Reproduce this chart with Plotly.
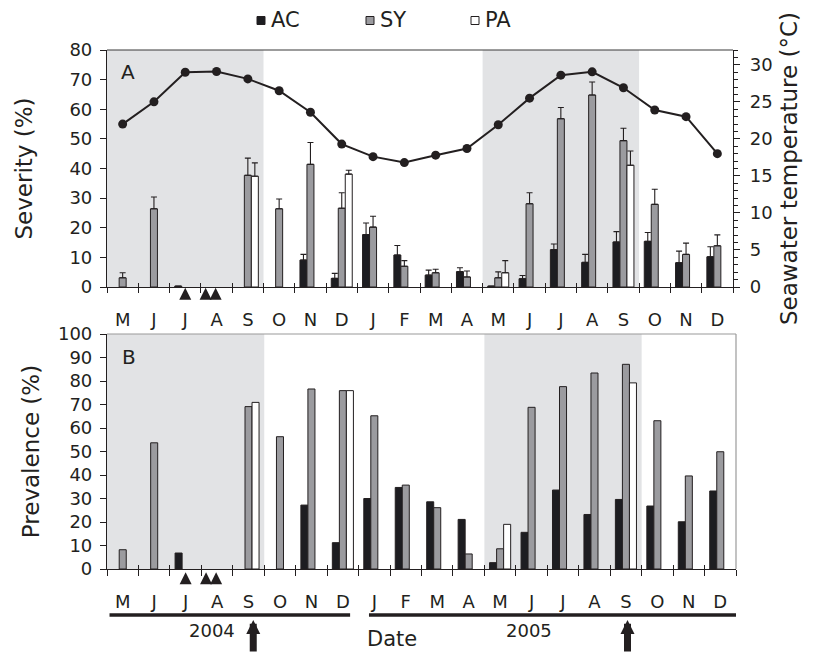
import plotly.graph_objects as go

# ---------------- data ----------------
months = ["M", "J", "J", "A", "S", "O", "N", "D", "J", "F", "M", "A",
          "M", "J", "J", "A", "S", "O", "N", "D"]
month_names = ["May", "Jun", "Jul", "Aug", "Sep", "Oct", "Nov", "Dec", "Jan", "Feb", "Mar", "Apr",
               "May", "Jun", "Jul", "Aug", "Sep", "Oct", "Nov", "Dec"]
years = [2004] * 8 + [2005] * 12

temperature = [22.0, 25.0, 29.0, 29.1, 28.1, 26.5, 23.6, 19.3, 17.6, 16.8, 17.8, 18.7,
               21.9, 25.5, 28.6, 29.05, 26.9, 23.9, 23.0, 18.0]

sev_ac = [None, None, 0.3, None, None, None, 9.1, 2.9, 17.7, 10.8, 4.0, 5.2,
          0.3, 2.8, 12.6, 8.3, 15.2, 15.4, 8.2, 10.2]
sev_ac_err = [None, None, None, None, None, None, 1.9, 1.7, 3.9, 3.2, 1.7, 1.3,
              None, 1.1, 1.9, 2.7, 3.5, 3.0, 3.9, 3.4]
sev_sy = [3.1, 26.4, None, None, 37.7, 26.4, 41.4, 26.6, 20.2, 7.0, 4.8, 3.4,
          3.1, 28.1, 56.8, 64.8, 49.4, 27.9, 11.0, 13.9]
sev_sy_err = [1.7, 4.0, None, None, 5.8, 3.3, 7.4, 5.2, 3.7, 1.9, 1.2, 2.0,
              2.0, 3.7, 3.8, 4.4, 4.2, 5.1, 3.8, 3.7]
sev_pa = [None, None, None, None, 37.4, None, None, 38.1, None, None, None, None,
          4.8, None, None, None, 41.1, None, None, None]
sev_pa_err = [None, None, None, None, 4.5, None, None, 1.3, None, None, None, None,
              4.1, None, None, None, 4.8, None, None, None]

prev_ac = [None, None, 6.8, None, None, None, 27.2, 11.2, 30.0, 34.7, 28.6, 21.1,
           2.7, 15.6, 33.6, 23.2, 29.6, 26.8, 20.1, 33.2]
prev_sy = [8.2, 53.7, None, None, 69.1, 56.3, 76.6, 75.9, 65.2, 35.7, 26.1, 6.4,
           8.6, 68.8, 77.6, 83.4, 87.1, 63.1, 39.6, 49.9]
prev_pa = [None, None, None, None, 70.9, None, None, 75.9, None, None, None, None,
           19.0, None, None, None, 79.2, None, None, None]

warm_months = ["May", "Jun", "Jul", "Aug", "Sep"]
event_positions = [2.0, 2.65, 2.97]      # small arrowheads (month index units)
sampling_positions = [4.15, 16.05]       # large arrows (month index units)

# ---------------- styling ----------------
FONT = "DejaVu Sans"
INK = "#231f20"
C_AC, C_SY, C_PA = "#1d1d21", "#9b9b9f", "#ffffff"
SHADE = "#e2e3e5"
OFF = 8                      # page body margin of the html page
W, H = 820 - OFF, 653 - OFF
ML, MR, MT, MB = 107 - OFF, W - (736 - OFF), 50 - OFF, 12
PW, PH = W - ML - MR, H - MT - MB


def px_x(px):
    """window pixel x -> paper fraction"""
    return (px - OFF - ML) / PW


def px_y(py):
    """window pixel y -> paper fraction"""
    return (H - MB - (py - OFF)) / PH


idx = list(range(len(months)))
fig = go.Figure()


def add_bars(values, errors, color, xa, ya):
    err = None
    if errors is not None:
        err = dict(type="data", symmetric=False, array=errors,
                   arrayminus=[0] * len(errors), color=INK, thickness=1.1, width=3)
    fig.add_trace(go.Bar(x=idx, y=values, marker=dict(color=color, line=dict(color=INK, width=1)),
                         error_y=err, xaxis=xa, yaxis=ya, showlegend=False, hoverinfo="skip"))


add_bars(sev_ac, sev_ac_err, C_AC, "x", "y")
add_bars(sev_sy, sev_sy_err, C_SY, "x", "y")
add_bars(sev_pa, sev_pa_err, C_PA, "x", "y")
add_bars(prev_ac, None, C_AC, "x2", "y3")
add_bars(prev_sy, None, C_SY, "x2", "y3")
add_bars(prev_pa, None, C_PA, "x2", "y3")

fig.add_trace(go.Scatter(x=idx, y=temperature, mode="lines+markers", xaxis="x", yaxis="y2",
                         line=dict(color=INK, width=2), marker=dict(color=INK, size=9),
                         showlegend=False, hoverinfo="skip"))

# event arrowheads: drawn on thin strip subplots just under each x axis
ev_marker = dict(symbol="arrow-up", size=12, color=INK, angle=0, line=dict(width=0))
fig.add_trace(go.Scatter(x=event_positions, y=[0.95] * len(event_positions), mode="markers",
                         xaxis="x5", yaxis="y4", cliponaxis=False, showlegend=False,
                         hoverinfo="skip", marker=ev_marker))
fig.add_trace(go.Scatter(x=event_positions, y=[0.8] * len(event_positions), mode="markers",
                         xaxis="x6", yaxis="y5", cliponaxis=False, showlegend=False,
                         hoverinfo="skip", marker=ev_marker))

# dummy traces so the overlay tick axes render
fig.add_trace(go.Scatter(x=[None], y=[None], xaxis="x3", yaxis="y", showlegend=False, hoverinfo="skip"))
fig.add_trace(go.Scatter(x=[None], y=[None], xaxis="x4", yaxis="y3", showlegend=False, hoverinfo="skip"))

top_dom = [px_y(287), px_y(50)]
bot_dom = [px_y(569), px_y(334)]
xr = [-0.5, len(months) - 0.5]
top_xdom = [0, px_x(733)]

tickfont = dict(family=FONT, size=18, color=INK)
titlefont = dict(family=FONT, size=23, color=INK)


def month_axis(domain, anchor, outer_len):
    return dict(domain=domain, anchor=anchor, range=xr, tickmode="array", tickvals=idx,
                ticktext=months, ticks="", tickfont=tickfont, ticklabelstandoff=16,
                showline=True, linecolor=INK, linewidth=1.2, showgrid=False, zeroline=False,
                automargin=False,
                minor=dict(tickmode="linear", tick0=-0.5, dtick=1, ticks="outside",
                           ticklen=outer_len, tickcolor=INK, tickwidth=1.2, showgrid=False))


def inner_tick_axis(over, anchor, ln):
    return dict(overlaying=over, anchor=anchor, range=xr, tickmode="linear", tick0=-0.5, dtick=1,
                ticks="inside", ticklen=ln, tickcolor=INK, tickwidth=1.2, showticklabels=False,
                showline=False, showgrid=False, zeroline=False, automargin=False)


def strip_x(match, domain, anchor):
    return dict(matches=match, domain=domain, anchor=anchor, range=xr, visible=False, automargin=False)


def strip_y(domain, anchor):
    return dict(domain=domain, anchor=anchor, range=[0, 1], visible=False, automargin=False)


fig.update_layout(
    width=W, height=H, margin=dict(l=ML, r=MR, t=MT, b=MB),
    paper_bgcolor="white", plot_bgcolor="rgba(0,0,0,0)",
    barmode="group", bargap=0.33, bargroupgap=0,
    font=dict(family=FONT, color=INK),
    xaxis=month_axis(top_xdom, "y", 5),
    xaxis2=month_axis([0, 1], "y3", 6),
    xaxis3=inner_tick_axis("x", "y", 4),
    xaxis4=inner_tick_axis("x2", "y3", 4),
    xaxis5=strip_x("x", top_xdom, "y4"),
    xaxis6=strip_x("x2", [0, 1], "y5"),
    yaxis4=strip_y([px_y(303), px_y(287)], "x5"),
    yaxis5=strip_y([px_y(585), px_y(569)], "x6"),
    yaxis=dict(domain=top_dom, anchor="x", range=[0, 80], dtick=10, ticks="outside", ticklen=6,
               tickcolor=INK, tickwidth=1.2, showline=True, linecolor=INK, linewidth=1.2,
               showgrid=False, zeroline=False, tickfont=tickfont, ticklabelstandoff=4,
               automargin=False,
               title=dict(text="Severity (%)", font=titlefont, standoff=30)),
    yaxis2=dict(overlaying="y", side="right", anchor="x", range=[0, 32], tickvals=[0, 5, 10, 15, 20, 25, 30],
                ticks="outside", ticklen=6, tickcolor=INK, tickwidth=1.2, showline=True, linecolor=INK,
                linewidth=1.2, showgrid=False, zeroline=False, tickfont=tickfont, ticklabelstandoff=6,
                automargin=False,
                minor=dict(tickmode="linear", tick0=0, dtick=1, ticks="outside", ticklen=3.5,
                           tickcolor=INK, tickwidth=1, showgrid=False),
                title=dict(text="Seawater temperature (°C)", font=titlefont, standoff=9)),
    yaxis3=dict(domain=bot_dom, anchor="x2", range=[0, 100], dtick=10, ticks="outside", ticklen=6,
                tickcolor=INK, tickwidth=1.2, showline=True, linecolor=INK, linewidth=1.2,
                showgrid=False, zeroline=False, tickfont=tickfont, ticklabelstandoff=4,
                automargin=False,
                title=dict(text="Prevalence (%)", font=titlefont, standoff=11)),
)

# seasonal shading (May-Sep), derived from month names
shapes = []
runs = []
start = None
for i, name in enumerate(month_names + [None]):
    if name in warm_months and start is None:
        start = i
    elif name not in warm_months and start is not None:
        runs.append((start, i - 1))
        start = None
for a, b in runs:
    shapes.append(dict(type="rect", xref="x", yref="y domain", x0=a - 0.5, x1=b + 0.5, y0=0, y1=1,
                       fillcolor=SHADE, line=dict(width=0), layer="below"))
    shapes.append(dict(type="rect", xref="x2", yref="y3 domain", x0=a - 0.5, x1=b + 0.5, y0=0, y1=1,
                       fillcolor=SHADE, line=dict(width=0), layer="below"))

# frame lines
shapes.append(dict(type="line", xref="x domain", yref="y domain", x0=0, x1=1, y0=1, y1=1,
                   line=dict(color="#3a3a3a", width=1.2)))
shapes.append(dict(type="line", xref="x2 domain", yref="y3 domain", x0=0, x1=1, y0=1, y1=1,
                   line=dict(color="#9a9a9a", width=1.2)))
shapes.append(dict(type="line", xref="x2 domain", yref="y3 domain", x0=1, x1=1, y0=0, y1=1,
                   line=dict(color="#9a9a9a", width=1.2)))

# year bars under the bottom axis
year_list = sorted(set(years))
year_pad = {2004: (-0.42, 7.23), 2005: (7.83, 19.5)}
year_label_x = {2004: 2.84, 2005: 12.92}
annotations = []
for y in year_list:
    x0, x1 = year_pad[y]
    shapes.append(dict(type="line", xref="x2", yref="paper", x0=x0, x1=x1, y0=px_y(615), y1=px_y(615),
                       line=dict(color=INK, width=3.5)))
    annotations.append(dict(text=str(y), xref="x2", yref="paper", x=year_label_x[y], y=px_y(630),
                            showarrow=False, font=dict(family=FONT, size=18, color=INK),
                            xanchor="center", yanchor="middle"))

# sampling arrows
for sx in sampling_positions:
    annotations.append(dict(text="", xref="x2", yref="paper", x=sx, y=px_y(620), ax=0, ay=36,
                            showarrow=True, arrowhead=2, arrowsize=0.4, arrowwidth=7,
                            arrowcolor=INK, standoff=0))

annotations.append(dict(text="Date", xref="paper", yref="paper", x=px_x(392), y=px_y(652.5),
                        showarrow=False, font=dict(family=FONT, size=21, color=INK),
                        xanchor="center", yanchor="bottom"))
annotations.append(dict(text="A", xref="paper", yref="paper", x=px_x(127.5), y=px_y(72),
                        showarrow=False, font=dict(family=FONT, size=20, color=INK),
                        xanchor="center", yanchor="middle"))
annotations.append(dict(text="B", xref="paper", yref="paper", x=px_x(129), y=px_y(357),
                        showarrow=False, font=dict(family=FONT, size=20, color=INK),
                        xanchor="center", yanchor="middle"))

# legend (key squares + labels)
legend_items = [("AC", C_AC, 257), ("SY", C_SY, 366), ("PA", C_PA, 471)]
for name, col, lx in legend_items:
    shapes.append(dict(type="rect", xref="paper", yref="paper", x0=px_x(lx), x1=px_x(lx + 8),
                       y0=px_y(24.5), y1=px_y(16.5), fillcolor=col, line=dict(color=INK, width=1)))
    annotations.append(dict(text=name, xref="paper", yref="paper", x=px_x(lx + 12), y=px_y(20.5),
                            showarrow=False, font=dict(family=FONT, size=21, color=INK),
                            xanchor="left", yanchor="middle"))

fig.update_layout(shapes=shapes, annotations=annotations)
fig.write_html("out.html")
